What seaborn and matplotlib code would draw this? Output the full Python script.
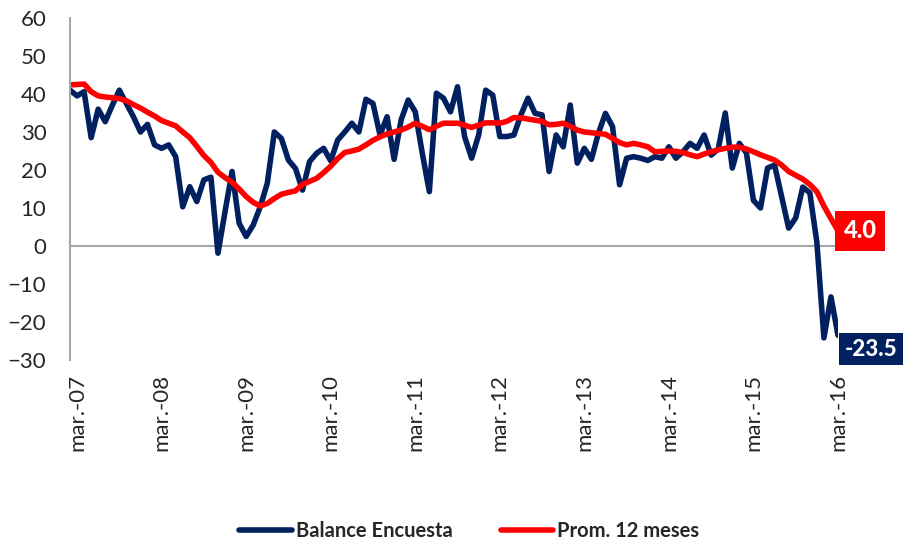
import numpy as np
import pandas as pd
import matplotlib
matplotlib.use("Agg")
import matplotlib.pyplot as plt
import seaborn as sns

# monthly data, feb-07 .. mar-16
tick_labels = ["mar.-07", "mar.-08", "mar.-09", "mar.-10", "mar.-11",
               "mar.-12", "mar.-13", "mar.-14", "mar.-15", "mar.-16"]

balance = [41, 39.5, 40.6, 28.5, 36, 32.7, 37, 41, 37.5, 34,
           30, 32, 26.6, 25.7, 26.6, 23.5, 10.3, 15.6, 11.7, 17.4,
           18.1, -1.9, 9, 19.6, 6, 2.5, 5.5, 10.3, 16.5, 30,
           28.3, 22.6, 20.4, 14.7, 22.2, 24.4, 25.7, 22.4, 27.9, 30,
           32.3, 30, 38.6, 37.5, 29.2, 34, 22.8, 33.2, 38.4, 35.3,
           24.4, 14.3, 40.2, 38.9, 35.3, 41.9, 28.8, 23.1, 29.2, 41,
           39.7, 28.8, 28.8, 29.2, 34.5, 38.9, 34.9, 34.5, 19.6, 29.2,
           26.1, 37.1, 21.8, 25.7, 22.8, 29.7, 34.9, 31.4, 16.1, 23.1,
           23.5, 23.1, 22.5, 23.5, 23.1, 26.1, 23.1, 24.8, 27, 25.7,
           29.2, 23.9, 25.5, 35, 20.5, 27, 24.5, 12, 10, 20.5,
           21.3, 13, 4.7, 7.4, 15.5, 14, 1, -24.2, -13.4, -23.5]

prom_12m = [42.4, 42.5, 42.6, 40.6, 39.5, 39.2, 39, 38.8, 38.2, 37.2,
            36.3, 35.2, 34.2, 33, 32.3, 31.6, 30, 28.5, 26.2, 23.8,
            22, 19.4, 18, 16.8, 15, 13, 11.5, 10.5, 11.2, 12.5,
            13.6, 14.1, 14.5, 16.2, 17, 17.8, 19.3, 21, 23, 24.6,
            25, 25.5, 26.6, 27.8, 28.7, 29.5, 30, 30.5, 31.3, 32.3,
            31.5, 30.6, 31.5, 32.3, 32.3, 32.3, 31.8, 31.2, 31.8, 32.4,
            32.4, 32.3, 32.8, 33.8, 33.7, 33.4, 33.1, 32.8, 31.9, 32,
            32.3, 31.5, 30.5, 30, 29.8, 29.6, 29.4, 28.3, 27.2, 26.6,
            27, 26.6, 26.1, 24.8, 24.9, 25, 24.9, 24.6, 24, 23.5,
            24.2, 24.8, 25.3, 25.7, 26, 26, 25.5, 24.8, 24, 23.3,
            22.6, 21.3, 19.6, 18.6, 17.6, 16.2, 14.3, 10.5, 7.2, 4.0]

months = np.arange(len(balance))
df = pd.DataFrame({"mes": months, "balance": balance, "prom": prom_12m})

sns.set_style("white")
plt.rcParams["font.family"] = ["Lato", "DejaVu Sans"]

fig = plt.figure(figsize=(9.08, 5.41), dpi=100)
ax = fig.add_axes([0.0771, 0.3346, 0.8458, 0.6322])

ax.axhline(0, color="#A6A6A6", lw=1.5, zorder=0)
sns.lineplot(data=df, x="mes", y="balance", color="#002060", lw=3.6,
             ax=ax, label="Balance Encuesta")
sns.lineplot(data=df, x="mes", y="prom", color="#FF0000", lw=3.8,
             ax=ax, label="Prom. 12 meses")

ax.set_xlim(0, len(balance) - 1)
ax.set_ylim(-30, 60)
ax.set_yticks(range(-30, 61, 10))
ax.set_xticks(months[1::12])
ax.set_xticklabels(tick_labels, rotation=90)
ax.set_xlabel("")
ax.set_ylabel("")
ax.tick_params(axis="y", length=0, labelsize=16, pad=17)
ax.tick_params(axis="x", length=0, labelsize=16, pad=10)

for side in ["top", "right", "bottom"]:
    ax.spines[side].set_visible(False)
ax.spines["left"].set_color("#A6A6A6")
ax.spines["left"].set_linewidth(1.5)

# end-of-series labels
ax.annotate(f"{prom_12m[-1]:.1f}", xy=(months[-1], prom_12m[-1]), xytext=(4, 0),
            textcoords="offset points", ha="left", va="center", color="white",
            fontsize=17, fontweight="black",
            bbox=dict(boxstyle="square,pad=0.35", fc="#FF0000", ec="none"))
ax.annotate(f"{balance[-1]:.1f}", xy=(months[-1], balance[-1]), xytext=(5, -10),
            textcoords="offset points", ha="left", va="center", color="white",
            fontsize=16, fontweight="black",
            bbox=dict(boxstyle="square,pad=0.25", fc="#002060", ec="none"))

ax.get_legend().remove()
handles, labels = ax.get_legend_handles_labels()
for h in handles:
    h.set_linewidth(4)
fig.legend(handles, labels, loc="center", bbox_to_anchor=(0.517, 0.018), ncol=2,
           frameon=False, prop={"weight": "bold", "size": 14.5},
           handlelength=2.6, handletextpad=0.2, columnspacing=2.4)

plt.savefig("out.png", dpi=100)
plt.close()
